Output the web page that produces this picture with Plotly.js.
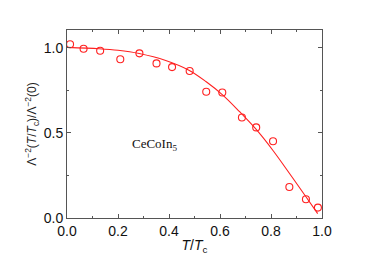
<!DOCTYPE html>
<html>
<head>
<meta charset="utf-8">
<script src="https://cdn.plot.ly/plotly-3.0.1.min.js"></script>
<style>html,body{margin:0;padding:0;background:#fff;}#chart{width:374px;height:261px;}</style>
</head>
<body>
<div id="chart"></div>
<script>
// Measured data points (T/Tc, normalized superfluid density)
const dataT = [0.012, 0.065, 0.130, 0.209, 0.284, 0.351, 0.412, 0.481, 0.546, 0.609, 0.686, 0.742, 0.808, 0.872, 0.937, 0.984];
const dataRho = [1.020, 0.994, 0.982, 0.932, 0.967, 0.908, 0.886, 0.863, 0.741, 0.737, 0.590, 0.532, 0.451, 0.182, 0.110, 0.061];
// Fit curve
const fitT = [0.0, 0.126, 0.200, 0.283, 0.387, 0.478, 0.546, 0.611, 0.677, 0.742, 0.807, 0.872, 0.937, 0.983];
const fitRho = [1.002, 0.994, 0.985, 0.966, 0.925, 0.868, 0.800, 0.722, 0.624, 0.520, 0.398, 0.263, 0.125, 0.026];
const xTicks = [0, 0.2, 0.4, 0.6, 0.8, 1.0];
const yTicks = [0, 0.5, 1.0];
const sampleLabel = 'CeCoIn<sub>5</sub>';

const red = '#ff2020';
const axisCol = '#555555';
const tickFont = {family: 'Liberation Sans, Arial, sans-serif', size: 14, color: '#111'};

const traces = [
  {x: fitT, y: fitRho, mode: 'lines', line: {color: red, width: 1.1, shape: 'spline', smoothing: 1}, hoverinfo: 'skip'},
  {x: dataT, y: dataRho, mode: 'markers',
   marker: {symbol: 'circle-open', size: 7, color: red, line: {color: red, width: 1.1}}}
];

const layout = {
  width: 374, height: 261,
  margin: {l: 67, r: 52, t: 30, b: 43},
  paper_bgcolor: '#fff', plot_bgcolor: '#fff',
  showlegend: false,
  xaxis: {
    range: [0, 1], tickvals: xTicks, ticktext: xTicks.map(v => v.toFixed(1)),
    ticks: 'inside', ticklen: 4, tickwidth: 1, tickcolor: axisCol,
    showline: true, linecolor: axisCol, linewidth: 1, mirror: 'ticks',
    showgrid: false, zeroline: false, tickfont: tickFont,
    minor: {dtick: 0.1, tick0: 0, ticks: 'inside', ticklen: 2, tickcolor: axisCol, showgrid: false},
    title: {text: '<i>T</i>/<i>T</i><sub>c</sub>', font: {family: 'Liberation Sans, Arial, sans-serif', size: 14, color: '#111'}, standoff: 2}
  },
  yaxis: {
    range: [0, 1.104], tickvals: yTicks, ticktext: yTicks.map(v => v.toFixed(1)),
    ticks: 'inside', ticklen: 4, tickwidth: 1, tickcolor: axisCol,
    showline: true, linecolor: axisCol, linewidth: 1, mirror: 'ticks',
    showgrid: false, zeroline: false, tickfont: tickFont,
    minor: {dtick: 0.25, tick0: 0, ticks: 'inside', ticklen: 2, tickcolor: axisCol, showgrid: false},
    title: {text: 'Λ<sup>−2</sup>(<i>T</i>/<i>T</i><sub>c</sub>)/Λ<sup>−2</sup>(0)', font: {family: 'Liberation Sans, Arial, sans-serif', size: 12, color: '#222'}, standoff: 4}
  },
  annotations: [{
    x: 0.246, y: 0.433, xref: 'x', yref: 'y', xanchor: 'left', yanchor: 'middle',
    text: sampleLabel, showarrow: false,
    font: {family: 'Liberation Serif, Times New Roman, serif', size: 13, color: '#111'}
  }]
};

Plotly.newPlot('chart', traces, layout, {displayModeBar: false, staticPlot: true});
</script>
</body>
</html>
